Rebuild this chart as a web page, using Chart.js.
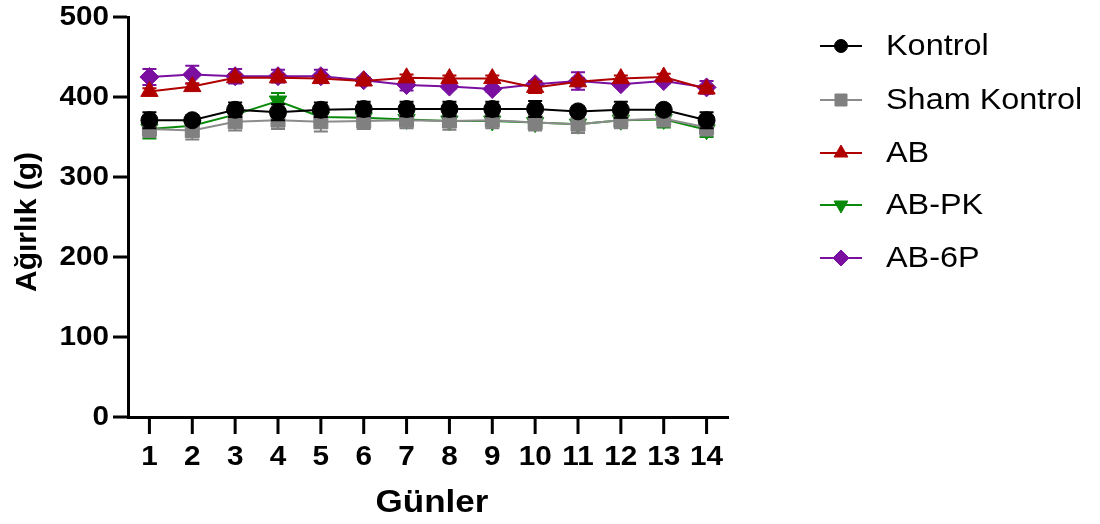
<!DOCTYPE html>
<html>
<head>
<meta charset="utf-8">
<script src="https://cdn.jsdelivr.net/npm/chart.js@4/dist/chart.umd.min.js"></script>
<style>
html,body{margin:0;padding:0;background:#fff;}
#wrap{width:1100px;height:524px;position:relative;}
</style>
</head>
<body>
<div id="wrap"><canvas id="c" width="1100" height="524"></canvas></div>
<script>
// ---- data ----
const days = [1,2,3,4,5,6,7,8,9,10,11,12,13,14];
const dayLabels = ['1','2','3','4','5','6','7','8','9','10','11','12','13','14'];
const yTickValues = [0,100,200,300,400,500];
const yTickLabels = ['0','100','200','300','400','500'];
const seriesNames = ['Kontrol','Sham Kontrol','AB','AB-PK','AB-6P'];
const xTitle = 'Günler';
const yTitle = 'Ağırlık (g)';

const kontrol    = [371,371,384,381,384,385,385,385,385,385,382,384,384,371];
const kontrolErr = [10,6,9,10,9,9,9,9,9,10,6,10,6,10];
const sham       = [360,358,369,371,369,370,371,370,371,368,366,371,373,362];
const shamErr    = [10,11,11,11,12,10,10,11,10,10,11,10,10,10];
const ab         = [407,413,424,424,423,420,424,423,423,412,419,423,425,410];
const abErr      = [4,4,4,4,4,4,4,4,4,7,4,4,4,4];
const abpk       = [360,364,378,395,375,374,372,370,370,368,366,371,372,359];
const abpkErr    = [12,5,6,10,5,5,5,5,5,5,5,8,10,9];
const ab6p       = [425,428,426,426,426,421,415,413,410,416,420,416,420,412];
const ab6pErr    = [10,11,9,8,8,3,7,3,3,4,11,3,3,8];

const values = [kontrol, sham, ab, abpk, ab6p];
const errors = [kontrolErr, shamErr, abErr, abpkErr, ab6pErr];

// ---- styles ----
const lineColors  = ['#000000','#8c8c8c','#b00000','#0a8a0a','#7a0fa0'];
const markColors  = ['#000000','#808080','#b00000','#0a8a0a','#7a0fa0'];
const pointStyles = ['circle','rect','triangle','triangle','rectRot'];
const pointRots   = [0,0,0,180,0];
const pointRadii  = [8.5,9.9,10,10,9.5];
const legendRadii = [6.5,8.5,8,8,8];
const FONT = '"Liberation Sans", Arial, Helvetica, sans-serif';

function sText(ctx, txt, x, y, font, align, sx){
  ctx.save();
  ctx.font = font;
  ctx.textBaseline = 'middle';
  ctx.textAlign = 'left';
  const w = ctx.measureText(txt).width * sx;
  const left = align === 'right' ? x - w : (align === 'center' ? x - w/2 : x);
  ctx.translate(left, y);
  ctx.scale(sx, 1);
  ctx.fillStyle = '#000';
  ctx.fillText(txt, 0, 0);
  ctx.restore();
}

const customPlugin = {
  id: 'custom',
  beforeDatasetDraw(chart, args){
    const i = args.index;
    const xs = chart.scales.x, ys = chart.scales.y;
    const ctx = chart.ctx;
    ctx.save();
    ctx.strokeStyle = markColors[i];
    ctx.lineWidth = 2;
    values[i].forEach((v, k) => {
      const e = errors[i][k];
      const x = xs.getPixelForValue(days[k]);
      const yt = ys.getPixelForValue(v + e);
      const yb = ys.getPixelForValue(v - e);
      ctx.beginPath();
      ctx.moveTo(x, yt); ctx.lineTo(x, yb);
      ctx.moveTo(x - 7, yt); ctx.lineTo(x + 7, yt);
      ctx.moveTo(x - 7, yb); ctx.lineTo(x + 7, yb);
      ctx.stroke();
    });
    ctx.restore();
  },
  afterDraw(chart){
    const ctx = chart.ctx;
    const xs = chart.scales.x, ys = chart.scales.y;
    const ca = chart.chartArea;
    ctx.save();
    ctx.strokeStyle = '#000';
    ctx.lineWidth = 3;
    // y ticks
    yTickValues.forEach((v, k) => {
      const y = ys.getPixelForValue(v);
      ctx.beginPath(); ctx.moveTo(ca.left - 15, y); ctx.lineTo(ca.left - 1, y); ctx.stroke();
      sText(ctx, yTickLabels[k], ca.left - 19, y + 1, 'bold 27px ' + FONT, 'right', 1.1);
    });
    // x ticks
    days.forEach((d, k) => {
      const x = xs.getPixelForValue(d);
      ctx.beginPath(); ctx.moveTo(x, ca.bottom + 2); ctx.lineTo(x, ca.bottom + 17); ctx.stroke();
      sText(ctx, dayLabels[k], x, ca.bottom + 41, 'bold 27px ' + FONT, 'center', 1.1);
    });
    // axis titles
    sText(ctx, xTitle, (ca.left + ca.right)/2 + 4, 503, 'bold 31px ' + FONT, 'center', 1.13);
    ctx.save();
    ctx.translate(28, (ca.top + ca.bottom)/2 + 5);
    ctx.rotate(-Math.PI/2);
    sText(ctx, yTitle, 0, 0, 'bold 30px ' + FONT, 'center', 1.0);
    ctx.restore();
    // legend
    const rows = [46,100,153,205,258];
    seriesNames.forEach((name, i) => {
      const y = rows[i];
      ctx.save();
      ctx.strokeStyle = lineColors[i];
      ctx.lineWidth = 2;
      ctx.beginPath(); ctx.moveTo(820, y); ctx.lineTo(862, y); ctx.stroke();
      ctx.fillStyle = markColors[i];
      ctx.strokeStyle = markColors[i];
      ctx.lineWidth = 1;
      Chart.helpers.drawPoint(ctx, {pointStyle: pointStyles[i], radius: legendRadii[i], rotation: pointRots[i], borderWidth: 1}, 841, y);
      ctx.restore();
      sText(ctx, name, 886, y + 1, '30px ' + FONT, 'left', 1.08);
    });
    ctx.restore();
  }
};

const datasets = seriesNames.map((name, i) => ({
  label: name,
  data: days.map((d, k) => ({x: d, y: values[i][k]})),
  borderColor: lineColors[i],
  backgroundColor: markColors[i],
  borderWidth: 2,
  pointStyle: pointStyles[i],
  pointRotation: pointRots[i],
  pointRadius: pointRadii[i],
  pointBackgroundColor: markColors[i],
  pointBorderColor: markColors[i],
  pointBorderWidth: 1,
  tension: 0,
  fill: false,
  clip: false
}));

new Chart(document.getElementById('c'), {
  type: 'line',
  data: { datasets },
  options: {
    responsive: false,
    animation: false,
    devicePixelRatio: 1,
    layout: { padding: { left: 0, top: 17, right: 372, bottom: 0 } },
    plugins: { legend: { display: false }, tooltip: { enabled: false } },
    scales: {
      x: {
        type: 'linear', min: 0.5, max: 14.5,
        grid: { display: false, drawTicks: false },
        border: { display: true, color: '#000', width: 3 },
        ticks: { display: false },
        afterFit: s => { s.height = 107; }
      },
      y: {
        type: 'linear', min: 0, max: 500,
        grid: { display: false, drawTicks: false },
        border: { display: true, color: '#000', width: 3 },
        ticks: { display: false },
        afterFit: s => { s.width = 128; }
      }
    }
  },
  plugins: [customPlugin]
});
</script>
</body>
</html>
